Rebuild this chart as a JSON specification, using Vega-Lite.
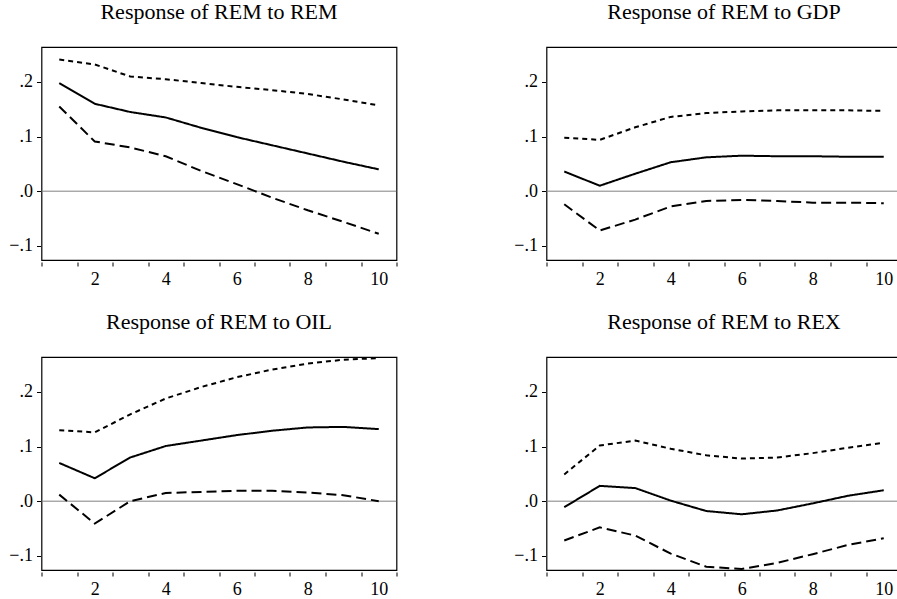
{
  "$schema": "https://vega.github.io/schema/vega-lite/v6.json",
  "padding": {"left": 7.5, "top": 0, "right": 0, "bottom": 0},
  "background": "white",
  "bounds": "flush",
  "spacing": {"row": 97, "column": 150},
  "columns": 2,
  "datasets": {
    "irf": [
      {"panel":"REM","period":1,"series":"resp","value":0.198},
      {"panel":"REM","period":2,"series":"resp","value":0.160},
      {"panel":"REM","period":3,"series":"resp","value":0.145},
      {"panel":"REM","period":4,"series":"resp","value":0.135},
      {"panel":"REM","period":5,"series":"resp","value":0.116},
      {"panel":"REM","period":6,"series":"resp","value":0.099},
      {"panel":"REM","period":7,"series":"resp","value":0.084},
      {"panel":"REM","period":8,"series":"resp","value":0.069},
      {"panel":"REM","period":9,"series":"resp","value":0.054},
      {"panel":"REM","period":10,"series":"resp","value":0.040},
      {"panel":"REM","period":1,"series":"upper","value":0.241},
      {"panel":"REM","period":2,"series":"upper","value":0.232},
      {"panel":"REM","period":3,"series":"upper","value":0.210},
      {"panel":"REM","period":4,"series":"upper","value":0.205},
      {"panel":"REM","period":5,"series":"upper","value":0.198},
      {"panel":"REM","period":6,"series":"upper","value":0.191},
      {"panel":"REM","period":7,"series":"upper","value":0.185},
      {"panel":"REM","period":8,"series":"upper","value":0.178},
      {"panel":"REM","period":9,"series":"upper","value":0.168},
      {"panel":"REM","period":10,"series":"upper","value":0.157},
      {"panel":"REM","period":1,"series":"lower","value":0.155},
      {"panel":"REM","period":2,"series":"lower","value":0.091},
      {"panel":"REM","period":3,"series":"lower","value":0.080},
      {"panel":"REM","period":4,"series":"lower","value":0.064},
      {"panel":"REM","period":5,"series":"lower","value":0.037},
      {"panel":"REM","period":6,"series":"lower","value":0.013},
      {"panel":"REM","period":7,"series":"lower","value":-0.012},
      {"panel":"REM","period":8,"series":"lower","value":-0.035},
      {"panel":"REM","period":9,"series":"lower","value":-0.056},
      {"panel":"REM","period":10,"series":"lower","value":-0.078},

      {"panel":"GDP","period":1,"series":"resp","value":0.036},
      {"panel":"GDP","period":2,"series":"resp","value":0.010},
      {"panel":"GDP","period":3,"series":"resp","value":0.032},
      {"panel":"GDP","period":4,"series":"resp","value":0.053},
      {"panel":"GDP","period":5,"series":"resp","value":0.062},
      {"panel":"GDP","period":6,"series":"resp","value":0.065},
      {"panel":"GDP","period":7,"series":"resp","value":0.064},
      {"panel":"GDP","period":8,"series":"resp","value":0.064},
      {"panel":"GDP","period":9,"series":"resp","value":0.063},
      {"panel":"GDP","period":10,"series":"resp","value":0.063},
      {"panel":"GDP","period":1,"series":"upper","value":0.098},
      {"panel":"GDP","period":2,"series":"upper","value":0.094},
      {"panel":"GDP","period":3,"series":"upper","value":0.117},
      {"panel":"GDP","period":4,"series":"upper","value":0.136},
      {"panel":"GDP","period":5,"series":"upper","value":0.143},
      {"panel":"GDP","period":6,"series":"upper","value":0.146},
      {"panel":"GDP","period":7,"series":"upper","value":0.148},
      {"panel":"GDP","period":8,"series":"upper","value":0.148},
      {"panel":"GDP","period":9,"series":"upper","value":0.148},
      {"panel":"GDP","period":10,"series":"upper","value":0.147},
      {"panel":"GDP","period":1,"series":"lower","value":-0.024},
      {"panel":"GDP","period":2,"series":"lower","value":-0.072},
      {"panel":"GDP","period":3,"series":"lower","value":-0.052},
      {"panel":"GDP","period":4,"series":"lower","value":-0.028},
      {"panel":"GDP","period":5,"series":"lower","value":-0.018},
      {"panel":"GDP","period":6,"series":"lower","value":-0.016},
      {"panel":"GDP","period":7,"series":"lower","value":-0.018},
      {"panel":"GDP","period":8,"series":"lower","value":-0.021},
      {"panel":"GDP","period":9,"series":"lower","value":-0.021},
      {"panel":"GDP","period":10,"series":"lower","value":-0.022},

      {"panel":"OIL","period":1,"series":"resp","value":0.070},
      {"panel":"OIL","period":2,"series":"resp","value":0.042},
      {"panel":"OIL","period":3,"series":"resp","value":0.080},
      {"panel":"OIL","period":4,"series":"resp","value":0.101},
      {"panel":"OIL","period":5,"series":"resp","value":0.111},
      {"panel":"OIL","period":6,"series":"resp","value":0.121},
      {"panel":"OIL","period":7,"series":"resp","value":0.129},
      {"panel":"OIL","period":8,"series":"resp","value":0.135},
      {"panel":"OIL","period":9,"series":"resp","value":0.136},
      {"panel":"OIL","period":10,"series":"resp","value":0.132},
      {"panel":"OIL","period":1,"series":"upper","value":0.130},
      {"panel":"OIL","period":2,"series":"upper","value":0.126},
      {"panel":"OIL","period":3,"series":"upper","value":0.159},
      {"panel":"OIL","period":4,"series":"upper","value":0.188},
      {"panel":"OIL","period":5,"series":"upper","value":0.209},
      {"panel":"OIL","period":6,"series":"upper","value":0.227},
      {"panel":"OIL","period":7,"series":"upper","value":0.241},
      {"panel":"OIL","period":8,"series":"upper","value":0.252},
      {"panel":"OIL","period":9,"series":"upper","value":0.259},
      {"panel":"OIL","period":10,"series":"upper","value":0.262},
      {"panel":"OIL","period":1,"series":"lower","value":0.012},
      {"panel":"OIL","period":2,"series":"lower","value":-0.041},
      {"panel":"OIL","period":3,"series":"lower","value":0.000},
      {"panel":"OIL","period":4,"series":"lower","value":0.015},
      {"panel":"OIL","period":5,"series":"lower","value":0.017},
      {"panel":"OIL","period":6,"series":"lower","value":0.019},
      {"panel":"OIL","period":7,"series":"lower","value":0.019},
      {"panel":"OIL","period":8,"series":"lower","value":0.016},
      {"panel":"OIL","period":9,"series":"lower","value":0.011},
      {"panel":"OIL","period":10,"series":"lower","value":0.000},

      {"panel":"REX","period":1,"series":"resp","value":-0.011},
      {"panel":"REX","period":2,"series":"resp","value":0.028},
      {"panel":"REX","period":3,"series":"resp","value":0.024},
      {"panel":"REX","period":4,"series":"resp","value":0.001},
      {"panel":"REX","period":5,"series":"resp","value":-0.018},
      {"panel":"REX","period":6,"series":"resp","value":-0.024},
      {"panel":"REX","period":7,"series":"resp","value":-0.017},
      {"panel":"REX","period":8,"series":"resp","value":-0.004},
      {"panel":"REX","period":9,"series":"resp","value":0.010},
      {"panel":"REX","period":10,"series":"resp","value":0.020},
      {"panel":"REX","period":1,"series":"upper","value":0.049},
      {"panel":"REX","period":2,"series":"upper","value":0.102},
      {"panel":"REX","period":3,"series":"upper","value":0.111},
      {"panel":"REX","period":4,"series":"upper","value":0.096},
      {"panel":"REX","period":5,"series":"upper","value":0.084},
      {"panel":"REX","period":6,"series":"upper","value":0.078},
      {"panel":"REX","period":7,"series":"upper","value":0.080},
      {"panel":"REX","period":8,"series":"upper","value":0.088},
      {"panel":"REX","period":9,"series":"upper","value":0.098},
      {"panel":"REX","period":10,"series":"upper","value":0.107},
      {"panel":"REX","period":1,"series":"lower","value":-0.072},
      {"panel":"REX","period":2,"series":"lower","value":-0.048},
      {"panel":"REX","period":3,"series":"lower","value":-0.063},
      {"panel":"REX","period":4,"series":"lower","value":-0.096},
      {"panel":"REX","period":5,"series":"lower","value":-0.120},
      {"panel":"REX","period":6,"series":"lower","value":-0.124},
      {"panel":"REX","period":7,"series":"lower","value":-0.113},
      {"panel":"REX","period":8,"series":"lower","value":-0.097},
      {"panel":"REX","period":9,"series":"lower","value":-0.080},
      {"panel":"REX","period":10,"series":"lower","value":-0.068}
    ],
    "zero": [{"y": 0}]
  },
  "concat": [
    {
      "title": "Response of REM to REM",
      "width": 355, "height": 213,
      "layer": [
        {"data": {"name": "zero"}, "mark": {"type": "rule", "color": "#808080", "strokeWidth": 1, "clip": true},
         "encoding": {"y": {"field": "y", "type": "quantitative", "scale": {"domain": [-0.126, 0.264], "nice": false, "zero": false}}}},
        {"data": {"name": "irf"}, "transform": [{"filter": "datum.panel == 'REM'"}],
         "mark": {"type": "line", "color": "black", "strokeWidth": 2, "clip": true},
         "encoding": {
           "x": {"field": "period", "type": "quantitative", "scale": {"domain": [0.5, 10.5], "nice": false, "zero": false},
                 "axis": {"values": [0.5, 1.5, 2.5, 3.5, 4.5, 5.5, 6.5, 7.5, 8.5, 9.5, 10.5], "labelExpr": "(datum.value + 0.5) % 2 == 0 ? format(datum.value + 0.5, 'd') : ''", "labelOffset": 17.75, "tickSize": 4, "offset": 2, "labelPadding": 4, "labelFontSize": 18}},
           "y": {"field": "value", "type": "quantitative", "scale": {"domain": [-0.126, 0.264], "nice": false, "zero": false},
                 "axis": {"values": [-0.1, 0, 0.1, 0.2], "labelExpr": "replace(format(datum.value, '.1f'), '0.', '.')", "tickSize": 4, "offset": 1, "labelPadding": 4, "labelFontSize": 18}},
           "detail": {"field": "series"},
           "strokeDash": {"field": "series", "type": "nominal", "legend": null, "scale": {"domain": ["resp", "upper", "lower"], "range": [[1, 0], [5, 4], [10, 5]]}}
         }}
      ]
    },
    {
      "title": "Response of REM to GDP",
      "width": 355, "height": 213,
      "layer": [
        {"data": {"name": "zero"}, "mark": {"type": "rule", "color": "#808080", "strokeWidth": 1, "clip": true},
         "encoding": {"y": {"field": "y", "type": "quantitative", "scale": {"domain": [-0.126, 0.264], "nice": false, "zero": false}}}},
        {"data": {"name": "irf"}, "transform": [{"filter": "datum.panel == 'GDP'"}],
         "mark": {"type": "line", "color": "black", "strokeWidth": 2, "clip": true},
         "encoding": {
           "x": {"field": "period", "type": "quantitative", "scale": {"domain": [0.5, 10.5], "nice": false, "zero": false},
                 "axis": {"values": [0.5, 1.5, 2.5, 3.5, 4.5, 5.5, 6.5, 7.5, 8.5, 9.5, 10.5], "labelExpr": "(datum.value + 0.5) % 2 == 0 ? format(datum.value + 0.5, 'd') : ''", "labelOffset": 17.75, "tickSize": 4, "offset": 2, "labelPadding": 4, "labelFontSize": 18}},
           "y": {"field": "value", "type": "quantitative", "scale": {"domain": [-0.126, 0.264], "nice": false, "zero": false},
                 "axis": {"values": [-0.1, 0, 0.1, 0.2], "labelExpr": "replace(format(datum.value, '.1f'), '0.', '.')", "tickSize": 4, "offset": 1, "labelPadding": 4, "labelFontSize": 18}},
           "detail": {"field": "series"},
           "strokeDash": {"field": "series", "type": "nominal", "legend": null, "scale": {"domain": ["resp", "upper", "lower"], "range": [[1, 0], [5, 4], [10, 5]]}}
         }}
      ]
    },
    {
      "title": "Response of REM to OIL",
      "width": 355, "height": 213,
      "layer": [
        {"data": {"name": "zero"}, "mark": {"type": "rule", "color": "#808080", "strokeWidth": 1, "clip": true},
         "encoding": {"y": {"field": "y", "type": "quantitative", "scale": {"domain": [-0.126, 0.264], "nice": false, "zero": false}}}},
        {"data": {"name": "irf"}, "transform": [{"filter": "datum.panel == 'OIL'"}],
         "mark": {"type": "line", "color": "black", "strokeWidth": 2, "clip": true},
         "encoding": {
           "x": {"field": "period", "type": "quantitative", "scale": {"domain": [0.5, 10.5], "nice": false, "zero": false},
                 "axis": {"values": [0.5, 1.5, 2.5, 3.5, 4.5, 5.5, 6.5, 7.5, 8.5, 9.5, 10.5], "labelExpr": "(datum.value + 0.5) % 2 == 0 ? format(datum.value + 0.5, 'd') : ''", "labelOffset": 17.75, "tickSize": 4, "offset": 2, "labelPadding": 4, "labelFontSize": 18}},
           "y": {"field": "value", "type": "quantitative", "scale": {"domain": [-0.126, 0.264], "nice": false, "zero": false},
                 "axis": {"values": [-0.1, 0, 0.1, 0.2], "labelExpr": "replace(format(datum.value, '.1f'), '0.', '.')", "tickSize": 4, "offset": 1, "labelPadding": 4, "labelFontSize": 18}},
           "detail": {"field": "series"},
           "strokeDash": {"field": "series", "type": "nominal", "legend": null, "scale": {"domain": ["resp", "upper", "lower"], "range": [[1, 0], [5, 4], [10, 5]]}}
         }}
      ]
    },
    {
      "title": "Response of REM to REX",
      "width": 355, "height": 213,
      "layer": [
        {"data": {"name": "zero"}, "mark": {"type": "rule", "color": "#808080", "strokeWidth": 1, "clip": true},
         "encoding": {"y": {"field": "y", "type": "quantitative", "scale": {"domain": [-0.126, 0.264], "nice": false, "zero": false}}}},
        {"data": {"name": "irf"}, "transform": [{"filter": "datum.panel == 'REX'"}],
         "mark": {"type": "line", "color": "black", "strokeWidth": 2, "clip": true},
         "encoding": {
           "x": {"field": "period", "type": "quantitative", "scale": {"domain": [0.5, 10.5], "nice": false, "zero": false},
                 "axis": {"values": [0.5, 1.5, 2.5, 3.5, 4.5, 5.5, 6.5, 7.5, 8.5, 9.5, 10.5], "labelExpr": "(datum.value + 0.5) % 2 == 0 ? format(datum.value + 0.5, 'd') : ''", "labelOffset": 17.75, "tickSize": 4, "offset": 2, "labelPadding": 4, "labelFontSize": 18}},
           "y": {"field": "value", "type": "quantitative", "scale": {"domain": [-0.126, 0.264], "nice": false, "zero": false},
                 "axis": {"values": [-0.1, 0, 0.1, 0.2], "labelExpr": "replace(format(datum.value, '.1f'), '0.', '.')", "tickSize": 4, "offset": 1, "labelPadding": 4, "labelFontSize": 18}},
           "detail": {"field": "series"},
           "strokeDash": {"field": "series", "type": "nominal", "legend": null, "scale": {"domain": ["resp", "upper", "lower"], "range": [[1, 0], [5, 4], [10, 5]]}}
         }}
      ]
    }
  ],
  "config": {
    "font": "Liberation Serif",
    "view": {"stroke": "black", "strokeWidth": 1.2},
    "title": {"font": "Liberation Serif", "fontSize": 22, "fontWeight": "normal", "color": "black", "anchor": "middle", "offset": 23},
    "axis": {"labelFont": "Liberation Serif", "labelColor": "black", "tickColor": "black", "tickWidth": 1, "grid": false, "domain": false, "title": null, "labelOverlap": false, "labelBound": false, "labelFlush": false}
  }
}
